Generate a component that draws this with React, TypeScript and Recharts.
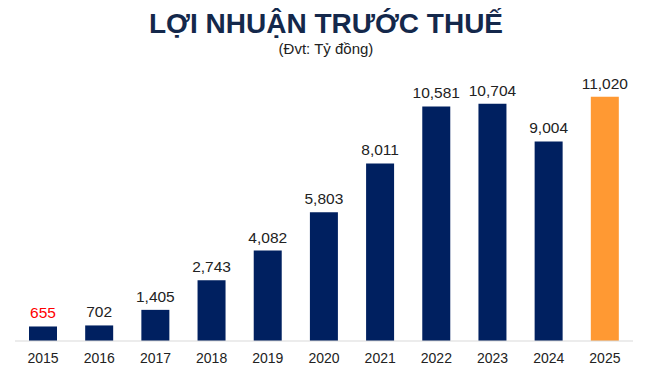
import { BarChart, Bar, XAxis, YAxis, Cell, LabelList } from "recharts";

const years = ["2015", "2016", "2017", "2018", "2019", "2020", "2021", "2022", "2023", "2024", "2025"];
const profit = [655, 702, 1405, 2743, 4082, 5803, 8011, 10581, 10704, 9004, 11020];
const barColors = ["#002060", "#002060", "#002060", "#002060", "#002060", "#002060", "#002060", "#002060", "#002060", "#002060", "#FF9933"];
const labelColors = ["#FF0000", "#222222", "#222222", "#222222", "#222222", "#222222", "#222222", "#222222", "#222222", "#222222", "#222222"];

const data = years.map((y, i) => ({ year: y, value: profit[i] }));

const fmt = (v: number) => v.toLocaleString("en-US");

function ValueLabel(props: any) {
  const { x, y, width, value, index } = props;
  return (
    <text
      x={x + width / 2}
      y={y - 8}
      textAnchor="middle"
      fill={labelColors[index]}
      fontSize={15.5}
      fontFamily="'Liberation Sans', Arial, sans-serif"
    >
      {fmt(value)}
    </text>
  );
}

export default function App() {
  return (
    <div
      style={{
        position: "absolute",
        left: 0,
        top: 0,
        width: 652,
        height: 375,
        background: "#fff",
        fontFamily: "'Liberation Sans', Arial, sans-serif",
      }}
    >
      <div
        style={{
          position: "absolute",
          top: 8,
          left: 0,
          width: 652,
          textAlign: "center",
          fontSize: 28,
          fontWeight: 700,
          color: "#14284b",
          lineHeight: "32px",
        }}
      >
        LỢI NHUẬN TRƯỚC THUẾ
      </div>
      <div
        style={{
          position: "absolute",
          top: 40,
          left: 0,
          width: 652,
          textAlign: "center",
          fontSize: 15,
          color: "#222",
          lineHeight: "18px",
        }}
      >
        (Đvt: Tỷ đồng)
      </div>
      <div style={{ position: "absolute", left: 0, top: 0 }}>
        <BarChart
          width={652}
          height={375}
          data={data}
          margin={{ top: 75, right: 19, left: 15, bottom: 4 }}
        >
          <XAxis
            dataKey="year"
            height={30}
            tickLine={false}
            tickSize={0}
            tickMargin={12}
            axisLine={{ stroke: "#d9d9d9" }}
            tick={{ fontSize: 14, fill: "#222" }}
            interval={0}
          />
          <YAxis hide domain={[0, 12000]} />
          <Bar dataKey="value" barSize={28} isAnimationActive={false}>
            {data.map((d, i) => (
              <Cell key={d.year} fill={barColors[i]} />
            ))}
            <LabelList dataKey="value" content={<ValueLabel />} />
          </Bar>
        </BarChart>
      </div>
    </div>
  );
}
